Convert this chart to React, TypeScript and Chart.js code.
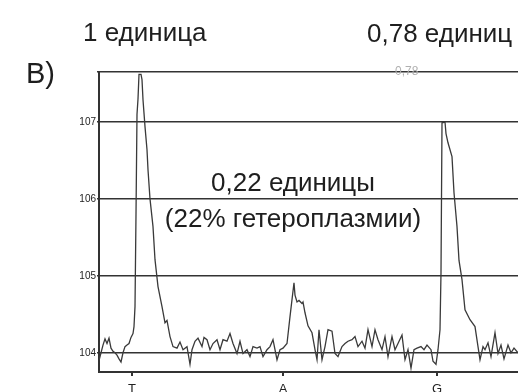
import React, { useEffect, useRef } from "react";
import { Chart, registerables } from "chart.js";

Chart.register(...registerables);

// Trace: x = scan position (px units from left border), y = log10(signal)
const traceX = [
  0, 2, 4, 6, 8, 10, 12, 14, 16, 18, 20, 22, 24, 26, 28, 30, 32, 34, 35, 36,
  37, 38, 39, 40, 42, 43, 44, 46, 48, 49, 51, 54, 56, 59, 63, 66, 68, 71, 74, 78,
  81, 84, 88, 91, 93, 96, 99, 103, 105, 108, 111, 114, 118, 121, 124, 128, 131, 134, 138, 141,
  144, 148, 151, 154, 158, 161, 164, 168, 171, 174, 178, 181, 184, 188, 191, 193, 195, 196, 198, 200,
  203, 204, 206, 209, 213, 216, 218, 220, 223, 226, 229, 233, 236, 239, 243, 246, 249, 253, 256, 259,
  263, 266, 269, 273, 276, 279, 283, 286, 289, 293, 296, 299, 303, 306, 309, 312, 315, 318, 322, 325,
  328, 332, 334, 337, 339, 341, 342, 343, 346, 347, 349, 353, 355, 358, 360, 363, 366, 371, 376, 379,
  381, 384, 386, 389, 392, 396, 399, 402, 405, 409, 412, 415, 419,
];
const traceLog = [
  3.9, 4.0, 4.1, 4.18, 4.12, 4.19, 4.06, 4.02, 4.0, 3.97, 3.92, 3.88, 4.0, 4.08, 4.1, 4.12, 4.2, 4.25, 4.34, 4.6,
  5.8, 7.1, 7.3, 7.62, 7.62, 7.55, 7.29, 6.94, 6.64, 6.38, 6.0, 5.64, 5.21, 4.86, 4.6, 4.39, 4.42, 4.21, 4.08, 4.06,
  4.14, 4.04, 4.08, 3.85, 4.04, 4.15, 4.19, 4.08, 4.2, 4.17, 4.04, 4.12, 4.17, 4.04, 4.17, 4.15, 4.25, 4.12, 3.99, 4.15,
  3.99, 4.04, 3.95, 4.08, 4.06, 4.08, 3.95, 4.04, 4.08, 4.17, 3.91, 4.04, 4.06, 4.12, 4.47, 4.69, 4.91, 4.75, 4.66, 4.68,
  4.64, 4.66, 4.52, 4.35, 4.26, 4.04, 3.91, 4.3, 3.91, 4.08, 4.3, 4.28, 3.99, 3.95, 4.08, 4.12, 4.15, 4.17, 4.21, 4.08,
  4.15, 4.06, 4.3, 4.08, 4.3, 4.17, 4.04, 4.21, 3.95, 4.21, 4.04, 4.12, 4.23, 3.91, 4.04, 3.8, 4.04, 4.06, 4.08, 4.04,
  4.1, 4.04, 3.89, 3.85, 4.04, 4.3, 5.04, 6.99, 7.0, 6.85, 6.73, 6.55, 6.08, 5.64, 5.2, 4.95, 4.56, 4.43, 4.34, 4.08,
  3.91, 4.08, 4.04, 4.13, 3.95, 4.26, 3.99, 4.1, 3.92, 4.1, 4.0, 4.06, 4.0,
];

const yTickValues = [4, 5, 6, 7];
const yTickLabels = ["104", "105", "106", "107"];
const baseTickValues = [33, 184, 338];
const baseTickLabels = ["T", "A", "G"];

const X_MIN = 0;
const X_MAX = 419;
const Y_MIN = 3.75;
const Y_MAX = 7.65;

const FONT = '"Liberation Sans", Arial, sans-serif';

export default function App() {
  const canvasRef = useRef<HTMLCanvasElement | null>(null);

  useEffect(() => {
    document.body.style.margin = "0";
    document.body.style.overflow = "hidden";
    const canvas = canvasRef.current;
    if (!canvas) return;
    const chart = new Chart(canvas, {
      type: "line",
      data: {
        datasets: [
          {
            data: traceX.map((x, i) => ({ x, y: traceLog[i] })),
            borderColor: "#3a3a3a",
            borderWidth: 1.3,
            pointRadius: 0,
            tension: 0,
            fill: false,
          },
        ],
      },
      options: {
        responsive: false,
        animation: false,
        layout: { padding: { top: 72, right: 0, bottom: 0, left: 0 } },
        plugins: { legend: { display: false }, tooltip: { enabled: false } },
        scales: {
          x: {
            type: "linear",
            min: X_MIN,
            max: X_MAX,
            afterBuildTicks: (s: any) => {
              s.ticks = baseTickValues.map((v) => ({ value: v }));
            },
            afterFit: (s: any) => {
              s.height = 28;
            },
            ticks: {
              autoSkip: false,
              maxRotation: 0,
              padding: 6,
              color: "#222",
              font: { family: FONT, size: 13 },
              callback: (v: any) => {
                const i = baseTickValues.indexOf(Number(v));
                return i >= 0 ? baseTickLabels[i] : "";
              },
            },
            grid: { drawOnChartArea: false, drawTicks: true, tickLength: 4, color: "#333", lineWidth: 2 },
            border: { display: true, color: "#333", width: 2 },
          },
          y: {
            type: "linear",
            min: Y_MIN,
            max: Y_MAX,
            afterBuildTicks: (s: any) => {
              s.ticks = [...yTickValues, Y_MAX].map((v) => ({ value: v }));
            },
            afterFit: (s: any) => {
              s.width = 99;
            },
            ticks: {
              autoSkip: false,
              padding: 1,
              color: "#222",
              font: { family: FONT, size: 10 },
              callback: (v: any) => {
                const i = yTickValues.indexOf(Number(v));
                return i >= 0 ? yTickLabels[i] : "";
              },
            },
            grid: { color: "#333", lineWidth: 1.6, tickLength: 2 },
            border: { display: true, color: "#333", width: 2 },
          },
        },
      },
    });
    return () => chart.destroy();
  }, []);

  const txt = (left: number, top: number, size: number, s: string, extra: any = {}) => (
    <div
      style={{
        position: "absolute",
        left,
        top,
        fontSize: size,
        lineHeight: 1,
        whiteSpace: "nowrap",
        fontFamily: FONT,
        color: "#1e1e1e",
        ...extra,
      }}
    >
      {s}
    </div>
  );

  return (
    <div style={{ position: "relative", width: 518, height: 392, overflow: "hidden", background: "#fff" }}>
      <canvas ref={canvasRef} width={518} height={400} style={{ position: "absolute", left: 0, top: 0 }} />
      {txt(26, 59, 29, "В)")}
      {txt(83, 19, 26, "1 единица")}
      {txt(367, 20, 26, "0,78 единиц")}
      {txt(395, 65, 12, "0,78", { color: "#b0b0b0" })}
      <div
        style={{
          position: "absolute",
          left: 293,
          top: 164,
          transform: "translateX(-50%)",
          textAlign: "center",
          fontSize: 26,
          lineHeight: "36px",
          whiteSpace: "nowrap",
          fontFamily: FONT,
          color: "#1e1e1e",
        }}
      >
        <div>0,22 единицы</div>
        <div>(22% гетероплазмии)</div>
      </div>
    </div>
  );
}
